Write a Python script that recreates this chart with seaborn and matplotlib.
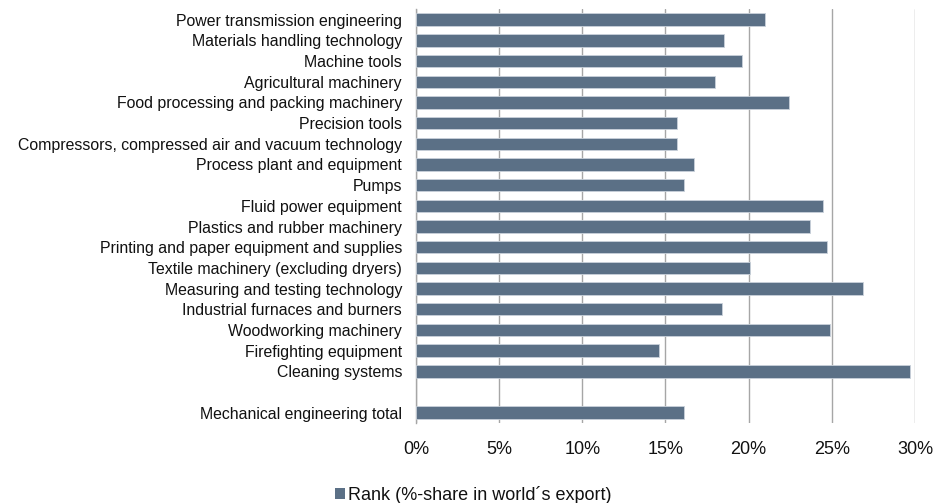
import numpy as np
import pandas as pd
import matplotlib
matplotlib.use("Agg")
import matplotlib.pyplot as plt
import seaborn as sns
from matplotlib.ticker import PercentFormatter
from matplotlib.patches import Patch

categories = [
    "Power transmission engineering",
    "Materials handling technology",
    "Machine tools",
    "Agricultural machinery",
    "Food processing and packing machinery",
    "Precision tools",
    "Compressors, compressed air and vacuum technology",
    "Process plant and equipment",
    "Pumps",
    "Fluid power equipment",
    "Plastics and rubber machinery",
    "Printing and paper equipment and supplies",
    "Textile machinery (excluding dryers)",
    "Measuring and testing technology",
    "Industrial furnaces and burners",
    "Woodworking machinery",
    "Firefighting equipment",
    "Cleaning systems",
    " ",
    "Mechanical engineering total",
]
share = [21.0, 18.5, 19.6, 18.0, 22.4, 15.7, 15.7, 16.7, 16.1, 24.5,
         23.7, 24.7, 20.1, 26.9, 18.4, 24.9, 14.6, 29.7, np.nan, 16.1]
series_name = "Rank (%-share in world\u00b4s export)"
x_ticks = [0, 5, 10, 15, 20, 25, 30]

df = pd.DataFrame({"category": categories, "share": share})

sns.set_theme(style="white")
plt.rcParams["font.family"] = ["Liberation Sans", "DejaVu Sans"]

bar_color = "#5b7086"
fig = plt.figure(figsize=(9.46, 5.03), dpi=100)
ax = fig.add_axes([0.4397, 0.159, 0.5275, 0.8225])

sns.barplot(data=df, y="category", x="share", order=categories,
            color=bar_color, saturation=1, width=0.6, orient="h",
            edgecolor="#c9d1da", linewidth=0.6, ax=ax, zorder=3)

ax.set_xlim(0, 30)
ax.set_ylim(len(categories) - 0.5, -0.5)
ax.set_xticks(x_ticks)
ax.xaxis.set_major_formatter(PercentFormatter(decimals=0))
ax.set_xlabel("")
ax.set_ylabel("")
ax.grid(axis="x", color="#a6a6a6", linewidth=1.0, zorder=0)
ax.grid(axis="y", visible=False)
for side in ["top", "right", "bottom"]:
    ax.spines[side].set_visible(False)
ax.spines["left"].set_color("#a6a6a6")
ax.spines["left"].set_linewidth(1.0)
ax.tick_params(axis="y", length=0, pad=10, labelsize=11.4, labelcolor="#111111")
ax.tick_params(axis="x", length=0, pad=13, labelsize=13, labelcolor="#111111")

handle = Patch(facecolor=bar_color, edgecolor="none", label=series_name)
fig.legend(handles=[handle], loc="center", bbox_to_anchor=(0.5, 0.016),
           frameon=False, fontsize=13, handlelength=0.55, handleheight=0.55,
           handletextpad=0.15, labelcolor="#111111")

fig.savefig("out.png", dpi=100)
